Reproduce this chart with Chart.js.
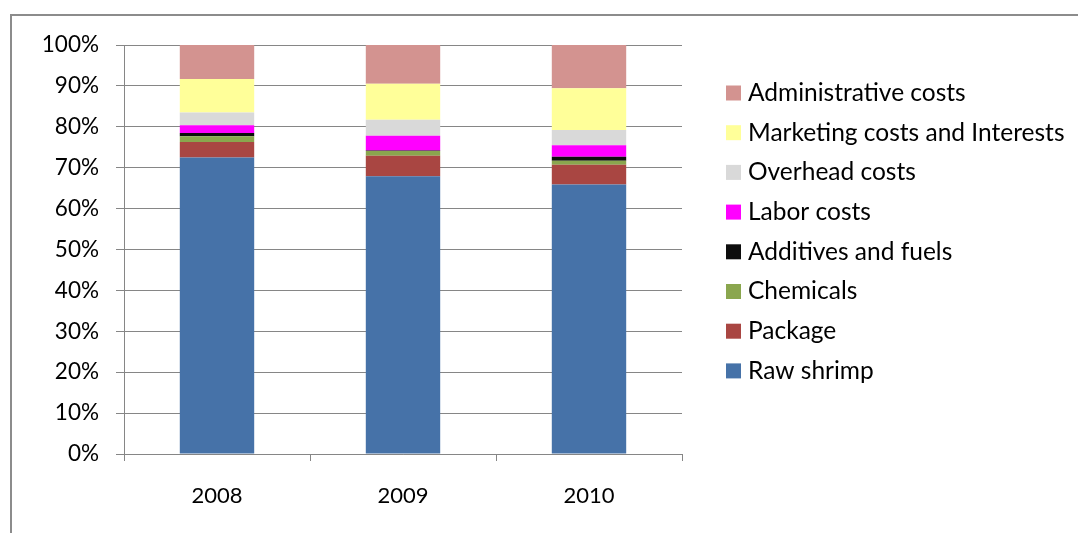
<!DOCTYPE html>
<html>
<head>
<meta charset="utf-8">
<script src="https://cdn.jsdelivr.net/npm/chart.js@4.4.1/dist/chart.umd.min.js"></script>
<style>
  html, body { margin: 0; padding: 0; background: #ffffff; }
  #wrap { width: 1078px; height: 533px; position: relative; }
</style>
</head>
<body>
<div id="wrap"><canvas id="c" width="1078" height="533"></canvas></div>
<script>
// Production cost structure of frozen shrimp, share of total cost (%)
const years = ['2008', '2009', '2010'];

const rawShrimp      = [72.5, 67.9, 65.9];
const packageCost    = [3.8, 5.0, 4.8];
const chemicals      = [1.4, 1.2, 1.0];
const additivesFuels = [0.8, 0.1, 1.0];
const laborCosts     = [1.9, 3.6, 2.8];
const overheadCosts  = [3.1, 3.9, 3.7];
const marketingCosts = [8.2, 8.8, 10.2];
const adminCosts     = [8.3, 9.5, 10.6];

const yTicks = [0, 10, 20, 30, 40, 50, 60, 70, 80, 90, 100];

const FONT = 'Lato, "Open Sans", sans-serif';
const GRID = '#868686';

const series = [
  { label: 'Raw shrimp', data: rawShrimp, color: '#4672A8' },
  { label: 'Package', data: packageCost, color: '#A94642' },
  { label: 'Chemicals', data: chemicals, color: '#8AA64E' },
  { label: 'Additives and fuels', data: additivesFuels, color: '#0D0D0D' },
  { label: 'Labor costs', data: laborCosts, color: '#FF00FF' },
  { label: 'Overhead costs', data: overheadCosts, color: '#D9D9D9' },
  { label: 'Marketing costs and Interests', data: marketingCosts, color: '#FFFF99' },
  { label: 'Administrative costs', data: adminCosts, color: '#D39390' }
];

// Outer frame of the chart object
const framePlugin = {
  id: 'frame',
  beforeDraw(chart) {
    const ctx = chart.ctx;
    ctx.save();
    ctx.fillStyle = '#ffffff';
    ctx.fillRect(0, 0, chart.width, chart.height);
    ctx.strokeStyle = '#8C8C8C';
    ctx.lineWidth = 2;
    ctx.strokeRect(11, 15, 1200, 700);
    ctx.restore();
  }
};

// Legend on the right, topmost series first
const sideLegend = {
  id: 'sideLegend',
  afterDraw(chart) {
    const ctx = chart.ctx;
    const ds = chart.data.datasets.slice().reverse();
    ctx.save();
    ctx.font = '24.5px ' + FONT;
    ctx.textBaseline = 'middle';
    ctx.textAlign = 'left';
    ds.forEach((d, i) => {
      const cy = 93 + i * 39.7;
      ctx.fillStyle = d.backgroundColor;
      ctx.fillRect(726, cy - 7.5, 15, 15);
      ctx.fillStyle = '#000000';
      ctx.fillText(d.label, 748, cy);
    });
    ctx.restore();
  }
};

new Chart(document.getElementById('c'), {
  type: 'bar',
  data: {
    labels: years,
    datasets: series.map(s => ({
      label: s.label,
      data: s.data,
      backgroundColor: s.color,
      borderWidth: 0,
      categoryPercentage: 1.0,
      barPercentage: 0.4
    }))
  },
  options: {
    responsive: false,
    animation: false,
    devicePixelRatio: 1,
    layout: { padding: { left: 0, top: 45, right: 396, bottom: 0 } },
    plugins: {
      legend: { display: false },
      tooltip: { enabled: false }
    },
    scales: {
      x: {
        stacked: true,
        offset: true,
        grid: {
          offset: true,
          drawOnChartArea: false,
          drawTicks: true,
          tickLength: 7,
          color: GRID,
          lineWidth: 1
        },
        border: { color: GRID, width: 1 },
        ticks: { color: '#000000', font: { family: FONT, size: 22 }, padding: 22 },
        afterFit(scale) { scale.height = 79; }
      },
      y: {
        stacked: true,
        min: 0,
        max: 100,
        afterBuildTicks(scale) { scale.ticks = yTicks.map(v => ({ value: v })); },
        grid: { color: GRID, lineWidth: 1, tickLength: 8, drawTicks: true },
        border: { color: GRID, width: 1 },
        ticks: {
          color: '#000000',
          font: { family: FONT, size: 22.5 },
          padding: 17,
          callback: v => v + '%'
        },
        afterFit(scale) { scale.width = 124; }
      }
    }
  },
  plugins: [framePlugin, sideLegend]
});
</script>
</body>
</html>
